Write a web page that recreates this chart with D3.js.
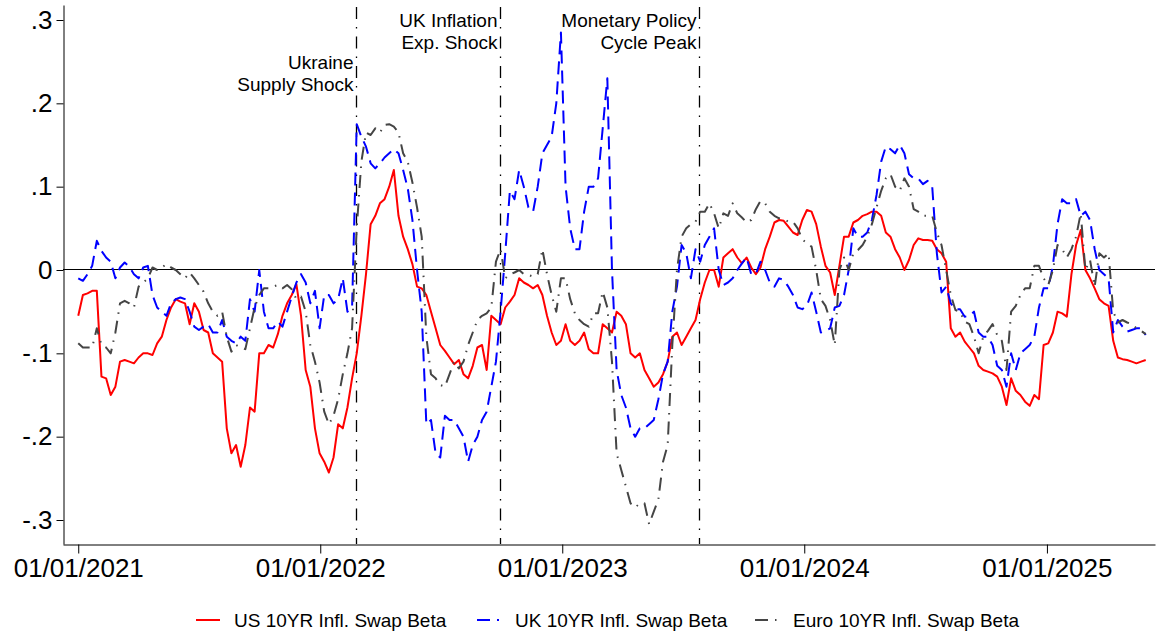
<!DOCTYPE html>
<html>
<head>
<meta charset="utf-8">
<script src="https://cdn.jsdelivr.net/npm/d3@7"></script>
<style>
body { margin: 0; background: #fff; }
svg { display: block; font-family: "Liberation Sans", Arial, sans-serif; }
</style>
</head>
<body>
<svg id="chart" width="1156" height="632"></svg>
<script>
// weekly observations starting 01/01/2021
const startDate = "2021-01-01";
const stepDays = 7;

const usBeta = [
  -0.055, -0.03, -0.028, -0.025, -0.025, -0.128, -0.13, -0.15, -0.14, -0.11,
  -0.108, -0.11, -0.112, -0.105, -0.1, -0.1, -0.102, -0.088, -0.08, -0.06,
  -0.045, -0.035, -0.038, -0.04, -0.065, -0.04, -0.05, -0.072, -0.075, -0.1,
  -0.105, -0.11, -0.19, -0.22, -0.21, -0.236, -0.21, -0.165, -0.17, -0.1,
  -0.1, -0.09, -0.093, -0.077, -0.055, -0.04, -0.03, -0.017, -0.055, -0.12,
  -0.14, -0.19, -0.22, -0.23, -0.243, -0.225, -0.185, -0.19, -0.165, -0.13,
  -0.1, -0.055, -0.005, 0.055, 0.065, 0.08, 0.085, 0.1, 0.12, 0.065,
  0.04, 0.025, 0.007, -0.02, -0.022, -0.03, -0.05, -0.07, -0.09, -0.097,
  -0.105, -0.113, -0.108, -0.125, -0.13, -0.115, -0.093, -0.09, -0.12, -0.055,
  -0.06, -0.065, -0.045, -0.038, -0.03, -0.01, -0.015, -0.018, -0.022, -0.018,
  -0.03, -0.055, -0.075, -0.09, -0.085, -0.065, -0.085, -0.09, -0.085, -0.075,
  -0.095, -0.1, -0.1, -0.065, -0.07, -0.075, -0.05, -0.055, -0.065, -0.1,
  -0.105, -0.1, -0.12, -0.13, -0.14, -0.135, -0.125, -0.11, -0.08, -0.075,
  -0.09, -0.08, -0.07, -0.06, -0.035, -0.015, 0.0, 0.0, -0.02, 0.015,
  0.02, 0.025, 0.015, 0.008, 0.015, 0.003, -0.005, 0.003, 0.025, 0.04,
  0.057, 0.06, 0.059, 0.052, 0.045, 0.042, 0.06, 0.072, 0.07, 0.055,
  0.028, 0.005, -0.003, -0.03, 0.005, 0.04, 0.04, 0.057, 0.06, 0.065,
  0.067, 0.07, 0.07, 0.065, 0.045, 0.04, 0.025, 0.015, 0.0, 0.012,
  0.03, 0.038, 0.036, 0.036, 0.035, 0.025, 0.02, 0.01, -0.07, -0.08,
  -0.075, -0.086, -0.093, -0.1, -0.115, -0.12, -0.122, -0.124, -0.128, -0.14,
  -0.162, -0.13, -0.145, -0.15, -0.158, -0.163, -0.15, -0.155, -0.09, -0.088,
  -0.075, -0.05, -0.052, -0.056, -0.005, 0.03, 0.048, 0.0, -0.01, -0.022,
  -0.035, -0.04, -0.043, -0.085, -0.105, -0.107, -0.108, -0.11, -0.112, -0.11,
  -0.108
];

const ukBeta = [
  -0.01, -0.013, -0.005, 0.005, 0.035, 0.023, 0.015, 0.01, -0.01, 0.003,
  0.009, 0.004, -0.005, -0.01, 0.003, 0.005, -0.03, -0.045, -0.05, -0.055,
  -0.04, -0.035, -0.033, -0.035, -0.05, -0.068, -0.072, -0.068, -0.065, -0.075,
  -0.075, -0.06, -0.08, -0.085, -0.088, -0.08, -0.085, -0.035, -0.05, 0.0,
  -0.05, -0.07, -0.07, -0.062, -0.068, -0.05, -0.032, -0.015, -0.005, -0.015,
  -0.04, -0.025, -0.07, -0.03, -0.03, -0.04, -0.035, -0.01, -0.05, -0.045,
  0.175, 0.16, 0.148, 0.128, 0.122, 0.128, 0.135, 0.14, 0.145, 0.14,
  0.12, 0.098, 0.06, 0.0, -0.05, -0.185, -0.18, -0.22, -0.225, -0.175,
  -0.18, -0.18, -0.19, -0.2, -0.23, -0.21, -0.2, -0.18, -0.17, -0.14,
  -0.11, -0.05, 0.02, 0.095, 0.085, 0.12, 0.1, 0.075, 0.07, 0.1,
  0.14, 0.15, 0.16, 0.2, 0.285, 0.1, 0.05, 0.025, 0.025, 0.07,
  0.1, 0.1, 0.11, 0.17, 0.23, 0.0, -0.12, -0.15, -0.165, -0.19,
  -0.2, -0.19, -0.19, -0.185, -0.18, -0.155, -0.125, -0.11, -0.05, -0.02,
  0.03, 0.02, -0.01, 0.025, 0.01, 0.03, 0.04, 0.05, 0.0, -0.018,
  -0.015, -0.01, 0.0, 0.008, 0.015, -0.005, -0.005, 0.01, 0.0, -0.015,
  -0.02, -0.01, -0.012, -0.02, -0.03, -0.045, -0.047, -0.043, -0.027, -0.05,
  -0.075, -0.073, -0.07, -0.045, -0.043, -0.03, 0.0, 0.05, 0.04, 0.04,
  0.045, 0.06, 0.09, 0.13, 0.148, 0.145, 0.14, 0.15, 0.14, 0.115,
  0.11, 0.11, 0.103, 0.107, 0.1, 0.02, -0.027, -0.02, -0.04, -0.047,
  -0.047, -0.056, -0.055, -0.05, -0.075, -0.08, -0.08, -0.09, -0.115, -0.12,
  -0.14, -0.1, -0.12, -0.1, -0.095, -0.09, -0.08, -0.045, -0.022, -0.022,
  0.005, 0.055, 0.085, 0.08, 0.08, 0.085, 0.065, 0.07, 0.06, 0.025,
  0.0, -0.005, -0.01, -0.075, -0.06, -0.068, -0.074, -0.072, -0.07, -0.07,
  -0.078
];

const euroBeta = [
  -0.088, -0.093, -0.093, -0.093, -0.07, -0.09, -0.093, -0.1, -0.075, -0.04,
  -0.037, -0.04, -0.045, -0.02, -0.015, -0.01, 0.003, 0.0, 0.003, 0.007,
  0.003, 0.0, -0.005, -0.01, -0.003, -0.01, -0.018, -0.026, -0.04, -0.05,
  -0.055, -0.05, -0.08, -0.098, -0.09, -0.093, -0.095, -0.07, -0.045, -0.03,
  -0.022, -0.022, -0.02, -0.018, -0.022, -0.018, -0.023, -0.035, -0.032, -0.05,
  -0.09, -0.11, -0.135, -0.17, -0.185, -0.175, -0.155, -0.125, -0.1, -0.07,
  0.05, 0.13, 0.165, 0.162, 0.17, 0.165, 0.174, 0.175, 0.172, 0.165,
  0.14, 0.13, 0.105, 0.075, 0.04, -0.08, -0.125, -0.13, -0.138, -0.14,
  -0.125, -0.11, -0.118, -0.11, -0.09, -0.075, -0.06, -0.055, -0.052, -0.045,
  0.01, 0.025, -0.01, -0.005, -0.003, 0.0, -0.005, -0.006, -0.008, -0.005,
  0.025, -0.005, -0.03, -0.05, -0.01, -0.01, -0.035, -0.052, -0.06, -0.065,
  -0.068, -0.052, -0.052, -0.026, -0.045, -0.11, -0.22, -0.24, -0.26, -0.28,
  -0.285, -0.28, -0.28, -0.305, -0.29, -0.275, -0.23, -0.21, -0.09, 0.0,
  0.04, 0.05, 0.055, 0.058, 0.07, 0.07, 0.08, 0.068, 0.05, 0.068,
  0.065, 0.08, 0.068, 0.063, 0.057, 0.06, 0.073, 0.083, 0.08, 0.07,
  0.065, 0.062, 0.061, 0.058, 0.058, 0.05, 0.037, 0.032, 0.028, 0.0,
  -0.035, -0.043, -0.06, -0.09, 0.0, 0.015, 0.0, 0.02, 0.024, 0.03,
  0.04, 0.055, 0.075, 0.095, 0.11, 0.115, 0.1, 0.095, 0.11, 0.1,
  0.073, 0.07, 0.065, 0.065, 0.065, 0.045, 0.03, 0.0, -0.03, -0.048,
  -0.05, -0.062, -0.065, -0.08, -0.1, -0.08, -0.073, -0.065, -0.078, -0.085,
  -0.12, -0.05, -0.043, -0.03, -0.022, -0.022, 0.005, 0.005, -0.01, -0.018,
  0.0, 0.03, 0.025, 0.015, 0.025, 0.04, 0.068, 0.0, 0.012, -0.02,
  0.02, 0.015, 0.02, -0.05, -0.063, -0.06, -0.063, -0.065, -0.07, -0.073,
  -0.077
];

const seriesNames = ["US 10YR Infl. Swap Beta", "UK 10YR Infl. Swap Beta", "Euro 10YR Infl. Swap Beta"];
const eventDates = ["2022-02-24", "2022-09-29", "2023-07-26"];
const eventLabels = [["Ukraine", "Supply Shock"], ["UK Inflation", "Exp. Shock"], ["Monetary Policy", "Cycle Peak"]];
const xTickDates = ["2021-01-01", "2022-01-01", "2023-01-01", "2024-01-01", "2025-01-01"];
const yTicks = [-0.3, -0.2, -0.1, 0, 0.1, 0.2, 0.3];

document.addEventListener('DOMContentLoaded', function () {
    drawChart();
})

function drawChart() {
    const parse = d3.utcParse("%Y-%m-%d");
    const t0 = parse(startDate);

    const x = d3.scaleUtc()
        .domain([parse("2020-12-09"), parse("2025-06-13")])
        .range([63, 1155]);
    const y = d3.scaleLinear()
        .domain([-0.3288, 0.318])
        .range([544, 5]);

    const svg = d3.select("#chart");

    // line styles, drawn in this order (euro ends up on top)
    const styles = [
        { color: "#ff0000", dash: null },
        { color: "#0000ff", dash: "13,7" },
        { color: "#454545", dash: "13,7,1.5,7" }
    ];
    const series = [usBeta, ukBeta, euroBeta].map((vals, i) => ({
        name: seriesNames[i],
        style: styles[i],
        points: vals.map((v, k) => ({ date: d3.utcDay.offset(t0, k * stepDays), value: v }))
    }));

    // y axis
    const fmtY = v => v === 0 ? "0" : (v < 0 ? "-" : "") + "." + Math.round(Math.abs(v) * 10);
    const yAxis = svg.append("g")
        .attr("transform", "translate(63.5,0)")
        .call(d3.axisLeft(y).tickValues(yTicks).tickFormat(fmtY).tickSize(7).tickPadding(4).tickSizeOuter(0));
    yAxis.select(".domain").attr("stroke", "#000");
    yAxis.selectAll("text").style("font-size", "26px").attr("fill", "#000");

    // x axis
    const xAxis = svg.append("g")
        .attr("transform", "translate(0,544.5)")
        .call(d3.axisBottom(x).tickValues(xTickDates.map(parse)).tickFormat(d3.utcFormat("%m/%d/%Y")).tickSize(9).tickPadding(5).tickSizeOuter(0));
    xAxis.selectAll("text").style("font-size", "26px").attr("fill", "#000");

    // zero line
    const y0 = Math.round(y(0)) - 0.5;
    svg.append("line")
        .attr("x1", x.range()[0]).attr("x2", x.range()[1])
        .attr("y1", y0).attr("y2", y0)
        .style("stroke", "#000")
        .style("stroke-width", 1);

    // event lines + labels
    const labelBaseline = [69, 27, 27];
    eventDates.forEach((d, i) => {
        const ex = Math.round(x(parse(d))) + 0.5;
        svg.append("line")
            .attr("x1", ex).attr("x2", ex)
            .attr("y1", y.range()[1] + 2).attr("y2", y.range()[0])
            .style("stroke", "#000")
            .style("stroke-width", 1.3)
            .style("stroke-dasharray", "12,8,1.5,8");
        const txt = svg.append("text")
            .attr("text-anchor", "end")
            .style("font-size", "19px")
            .attr("fill", "#000");
        eventLabels[i].forEach((s, j) => {
            txt.append("tspan")
                .attr("x", ex - 3)
                .attr("y", labelBaseline[i] + j * 21.7)
                .text(s);
        });
    });

    // series
    const line = d3.line()
        .x(d => x(d.date))
        .y(d => y(d.value));

    svg.append("g")
        .selectAll("path")
        .data(series)
        .enter().append("path")
        .attr("d", d => line(d.points))
        .style("fill", "none")
        .style("stroke", d => d.style.color)
        .style("stroke-width", 2)
        .style("stroke-linejoin", "round")
        .style("stroke-dasharray", d => d.style.dash);

    // legend
    const legendX = [196, 477, 755];
    const legend = svg.append("g")
        .selectAll("g")
        .data(series)
        .enter().append("g")
        .attr("transform", (d, i) => `translate(${legendX[i]},620)`);
    legend.append("line")
        .attr("x1", 0).attr("x2", (d, i) => i === 0 ? 24 : 22)
        .style("stroke", d => d.style.color)
        .style("stroke-width", 2)
        .style("stroke-dasharray", d => d.style.dash);
    legend.append("text")
        .attr("x", 38)
        .attr("y", 7)
        .style("font-size", "19px")
        .attr("fill", "#000")
        .text(d => d.name);
}
</script>
</body>
</html>
